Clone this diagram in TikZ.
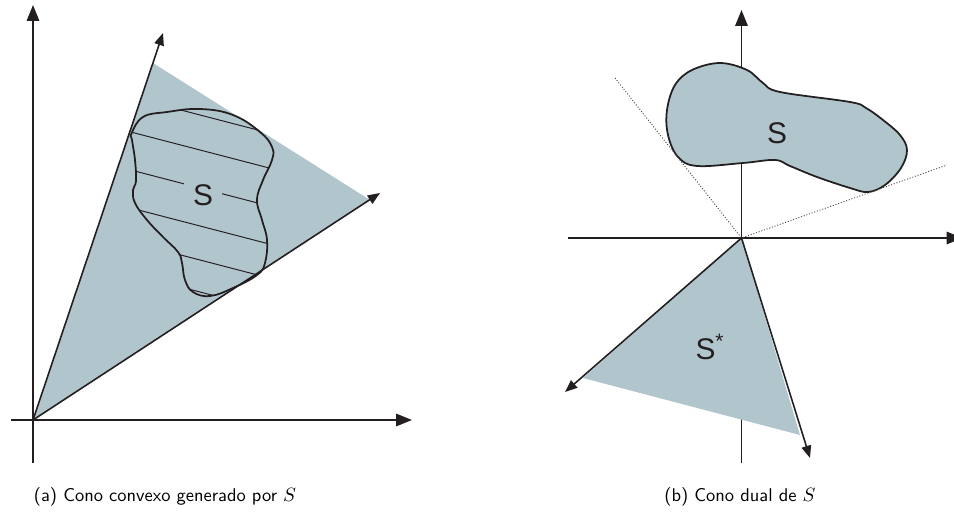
\documentclass[tikz,border=0pt]{standalone}
\usepackage{fontspec}
\newfontfamily\figfont{Liberation Sans}
\usepackage{tikz}
\usetikzlibrary{arrows.meta}
\usepackage{xcolor}
\definecolor{conefill}{HTML}{B1C5CD}
\definecolor{inkline}{HTML}{231F20}

\begin{document}
\begin{tikzpicture}[
    axis/.style={line width=1.1pt, draw=inkline, -{Triangle[length=9pt, width=7pt]}},
    ray/.style={line width=0.9pt, draw=inkline, -{Triangle[length=7pt, width=5.5pt]}},
    blob/.style={line width=1pt, draw=inkline},
    hatch/.style={line width=0.55pt, draw=inkline},
    tangent/.style={dash pattern=on 0.6pt off 1pt, line width=0.5pt, draw=inkline!80},
    setlabel/.style={font=\figfont\fontsize{17}{20}\selectfont, text=inkline},
    caption/.style={font=\sffamily\fontsize{10.5}{12}\selectfont}]
    \useasboundingbox (0, 0) rectangle (19.08, 10.30);

    % (a) cone generated by S
    \coordinate (O1) at (0.66, 1.90);
    \coordinate (A1) at (3.06, 9.04);
    \coordinate (B1) at (7.40, 6.30);
    \fill[conefill] (O1) -- (A1) -- (B1) -- cycle;
    \draw[axis] (0.66, 1.04) -- (0.66, 10.20);
    \draw[axis] (0.22, 1.90) -- (8.24, 1.90);
    \draw[ray] (O1) -- (3.26, 9.64);
    \draw[ray] (O1) -- (7.60, 6.44);

    \def\blobA{plot[smooth cycle, tension=0.7] coordinates {
        (2.63, 7.63) (2.86, 7.96) (3.34, 8.06) (4.00, 8.12) (4.66, 8.00)
        (5.20, 7.66) (5.44, 7.36) (5.44, 7.10) (5.26, 6.70) (5.14, 6.30)
        (5.24, 5.90) (5.34, 5.50) (5.30, 5.04) (5.14, 4.80) (4.66, 4.54)
        (4.20, 4.38) (3.86, 4.46) (3.70, 4.70) (3.64, 5.04) (3.56, 5.26)
        (3.26, 5.56) (2.94, 5.90) (2.70, 6.24) (2.66, 6.50) (2.72, 6.68)
        (2.70, 7.10) (2.64, 7.50)}}
    \begin{scope}
        \clip \blobA;
        \foreach \y in {8.00, 7.30, 6.54, 5.78, 5.10, 4.46}
            \draw[hatch] (2.4, \y+0.416) -- (5.6, \y-0.416);
    \end{scope}
    \draw[blob] \blobA;
    \node[setlabel, fill=conefill, inner xsep=5pt, inner ysep=1pt] (S1) at (4.06, 6.40) {S};

    % (b) dual cone
    \coordinate (O2) at (14.83, 5.54);
    \draw[axis] (14.83, 1.04) -- (14.83, 10.10);
    \draw[axis] (11.36, 5.54) -- (19.25, 5.54);
    \filldraw[blob, fill=conefill] plot[smooth cycle, tension=0.6] coordinates {
        (14.40, 9.04) (14.94, 8.90) (15.26, 8.64) (15.60, 8.46) (17.00, 8.26)
        (17.32, 8.14) (17.66, 7.90) (18.00, 7.60) (18.14, 7.30) (18.02, 6.94)
        (17.70, 6.60) (17.36, 6.46) (17.00, 6.54) (16.34, 6.76) (15.80, 6.98)
        (15.50, 7.10) (14.86, 7.04) (13.94, 6.98) (13.56, 7.16) (13.36, 7.60)
        (13.34, 8.10) (13.50, 8.60) (13.84, 8.90)};
    \coordinate (A2) at (11.66, 2.74);
    \coordinate (B2) at (16.00, 1.60);
    \fill[conefill] (O2) -- (A2) -- (B2) -- cycle;
    \draw[ray] (O2) -- (11.30, 2.46);
    \draw[ray] (O2) -- (16.20, 1.14);
    \draw[tangent] (12.30, 8.74) -- (O2) -- (18.94, 7.00);
    \node[setlabel] (S2) at (15.54, 7.64) {S};
    \node[setlabel] (S2star) at (14.20, 3.36) {S\textsuperscript{*}};

    \node[caption] (capa) at (3.30, 0.36) {(a) Cono convexo generado por $S$};
    \node[caption] (capb) at (14.80, 0.36) {(b) Cono dual de $S$};
\end{tikzpicture}
\end{document}
